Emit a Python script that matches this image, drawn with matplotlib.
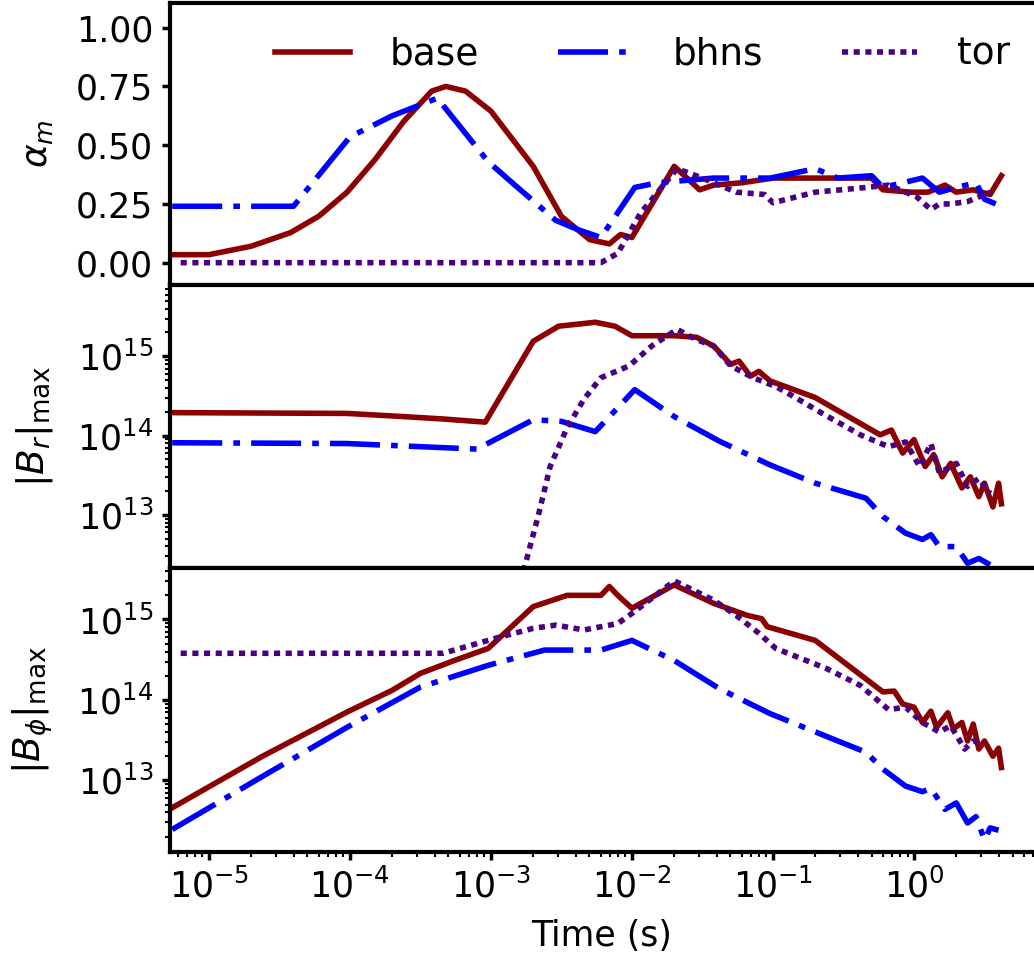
import numpy as np
import matplotlib
matplotlib.use("Agg")
import matplotlib.pyplot as plt

# values: log10(time / s) and panel values
# --- alpha_m panel ---
base_a_lt = [-5.26, -5.0, -4.70, -4.42, -4.22, -4.02, -3.82, -3.62, -3.42, -3.32, -3.18, -3.0,
             -2.70, -2.50, -2.30, -2.16, -2.08, -2.0, -1.70, -1.52, -1.42, -1.22, -1.0, -0.30,
             -0.22, -0.02, 0.10, 0.22, 0.30, 0.42, 0.54, 0.62]
base_a = [0.034, 0.034, 0.07, 0.128, 0.198, 0.30, 0.44, 0.60, 0.73, 0.75, 0.73, 0.645,
          0.41, 0.197, 0.098, 0.08, 0.12, 0.107, 0.41, 0.31, 0.33, 0.34, 0.36, 0.36,
          0.31, 0.30, 0.30, 0.33, 0.30, 0.31, 0.29, 0.37]
bhns_a_lt = [-5.26, -4.40, -4.0, -3.70, -3.38, -3.02, -2.82, -2.54, -2.38, -2.22, -1.98, -1.82,
             -1.42, -1.02, -0.70, -0.54, -0.30, -0.22, 0.06, 0.18, 0.30, 0.44, 0.50, 0.58]
bhns_a = [0.24, 0.24, 0.535, 0.625, 0.70, 0.43, 0.325, 0.18, 0.14, 0.107, 0.32, 0.34,
          0.36, 0.36, 0.40, 0.36, 0.37, 0.32, 0.36, 0.30, 0.32, 0.34, 0.27, 0.25]
tor_a_lt = [-5.2, -2.22, -2.10, -1.94, -1.68, -1.50, -1.26, -1.06, -1.0, -0.70, -0.34, -0.18,
            0.02, 0.12, 0.18, 0.26, 0.38, 0.46, 0.54]
tor_a = [0.0, 0.0, 0.04, 0.21, 0.40, 0.36, 0.30, 0.29, 0.255, 0.30, 0.32, 0.33,
         0.28, 0.226, 0.25, 0.25, 0.26, 0.28, 0.30]

# --- |B_r|_max panel (log10 G) ---
base_r_lt = [-5.26, -4.02, -3.62, -3.34, -3.04, -2.70, -2.52, -2.26, -2.12, -2.0, -1.70, -1.54,
             -1.42, -1.30, -1.24, -1.16, -1.10, -1.02, -0.70, -0.24, -0.16, -0.08, 0.0, 0.08,
             0.14, 0.20, 0.26, 0.34, 0.40, 0.46, 0.50, 0.56, 0.60, 0.62]
base_r = [14.29, 14.28, 14.24, 14.21, 14.17, 15.19, 15.38, 15.43, 15.38, 15.26, 15.26, 15.24,
          15.13, 14.90, 14.94, 14.75, 14.81, 14.69, 14.48, 14.01, 14.07, 13.78, 13.95, 13.61,
          13.76, 13.48, 13.65, 13.34, 13.48, 13.23, 13.40, 13.10, 13.40, 13.14]
bhns_r_lt = [-5.26, -4.02, -3.10, -2.70, -2.50, -2.26, -1.98, -1.70, -1.38, -1.02, -0.70, -0.34,
             -0.22, -0.06, 0.06, 0.12, 0.18, 0.30, 0.38, 0.46, 0.54]
bhns_r = [13.91, 13.90, 13.83, 14.20, 14.18, 14.05, 14.58, 14.24, 13.93, 13.63, 13.40, 13.21,
          12.98, 12.77, 12.69, 12.75, 12.60, 12.60, 12.39, 12.45, 12.37]
tor_r_lt = [-2.80, -2.76, -2.66, -2.58, -2.46, -2.34, -2.22, -2.02, -1.86, -1.68, -1.54, -1.42,
            -1.30, -1.14, -0.98, -0.86, -0.66, -0.38, -0.18, -0.06, 0.04, 0.12, 0.18, 0.30,
            0.38, 0.46, 0.54]
tor_r = [12.0, 12.35, 13.02, 13.61, 14.10, 14.46, 14.73, 14.88, 15.13, 15.34, 15.21, 15.13,
         14.88, 14.73, 14.62, 14.50, 14.29, 14.01, 13.86, 13.92, 13.61, 13.90, 13.53, 13.65,
         13.36, 13.46, 13.27]

# --- |B_phi|_max panel (log10 G) ---
base_p_lt = [-5.26, -4.62, -4.02, -3.70, -3.50, -3.26, -3.02, -2.70, -2.46, -2.22, -2.16, -2.10,
             -2.0, -1.70, -1.42, -1.18, -1.08, -1.04, -0.70, -0.22, -0.14, -0.08, 0.0, 0.06,
             0.12, 0.16, 0.24, 0.28, 0.34, 0.38, 0.42, 0.46, 0.50, 0.56, 0.60, 0.62]
base_p = [12.66, 13.30, 13.85, 14.12, 14.33, 14.49, 14.64, 15.16, 15.30, 15.30, 15.41, 15.30,
          15.14, 15.43, 15.20, 15.05, 15.01, 14.91, 14.74, 14.10, 14.11, 13.95, 13.91, 13.72,
          13.86, 13.66, 13.84, 13.64, 13.72, 13.49, 13.70, 13.39, 13.49, 13.30, 13.40, 13.16]
bhns_p_lt = [-5.26, -4.62, -4.02, -3.50, -3.02, -2.62, -2.22, -2.0, -1.70, -1.38, -1.02, -0.54,
             -0.34, -0.22, -0.06, 0.06, 0.12, 0.22, 0.30, 0.38, 0.44, 0.50, 0.54, 0.60]
bhns_p = [12.39, 13.05, 13.66, 14.16, 14.43, 14.62, 14.62, 14.74, 14.49, 14.14, 13.83, 13.49,
          13.35, 13.14, 12.93, 12.86, 12.90, 12.64, 12.72, 12.47, 12.55, 12.26, 12.41, 12.38]
tor_p_lt = [-5.2, -3.34, -3.18, -2.94, -2.70, -2.54, -2.34, -2.10, -1.98, -1.70, -1.42, -1.26,
            -1.10, -0.98, -0.62, -0.38, -0.18, -0.06, 0.06, 0.18, 0.26, 0.36, 0.42, 0.50]
tor_p = [14.58, 14.58, 14.66, 14.78, 14.89, 14.93, 14.87, 14.95, 15.10, 15.48, 15.24, 15.05,
         14.83, 14.64, 14.39, 14.18, 13.88, 13.91, 13.72, 13.60, 13.68, 13.39, 13.49, 13.45]

labels = ["base", "bhns", "tor"]
colors = ["#8b0000", "blue", "#4b0082"]
dashes = [None, (9, 2, 1.2, 2), (1.1, 1.0)]

plt.rcParams["font.family"] = ["DejaVu Sans"]
fig = plt.figure(figsize=(10.34, 9.57), dpi=100)

W, H = 1034.0, 957.0
left = 170 / W
panels = [(3, 285), (285, 568), (568, 852)]
axes = []
for top_px, bot_px in panels:
    ax = fig.add_axes([left, 1 - bot_px / H, 1.0 - left, (bot_px - top_px) / H])
    axes.append(ax)
ax1, ax2, ax3 = axes
ax2.sharex(ax1)
ax3.sharex(ax1)

series = [
    (ax1, [(base_a_lt, base_a), (bhns_a_lt, bhns_a), (tor_a_lt, tor_a)], False),
    (ax2, [(base_r_lt, base_r), (bhns_r_lt, bhns_r), (tor_r_lt, tor_r)], True),
    (ax3, [(base_p_lt, base_p), (bhns_p_lt, bhns_p), (tor_p_lt, tor_p)], True),
]

for ax, data, logy in series:
    for (lt, v), lab, c, d in zip(data, labels, colors, dashes):
        t = np.power(10.0, lt)
        y = np.power(10.0, v) if logy else np.asarray(v)
        line, = ax.plot(t, y, color=c, lw=4, label=lab)
        if d is not None:
            line.set_dashes(d)
    ax.set_xscale("log")
    if logy:
        ax.set_yscale("log")
    for s in ax.spines.values():
        s.set_linewidth(3)
    ax.spines["right"].set_visible(False)
    ax.tick_params(axis="both", which="major", labelsize=25, length=6, width=2.5, pad=6)
    ax.tick_params(axis="both", which="minor", length=3.5, width=1.5)

ax1.set_xlim(5.3e-6, 7.1)
ax1.set_ylim(-0.095, 1.105)
ax1.set_yticks([0.0, 0.25, 0.5, 0.75, 1.0])
ax2.set_ylim(10 ** 12.33, 10 ** 15.9)
ax3.set_ylim(10 ** 12.11, 10 ** 15.64)
ax2.set_yticks([1e13, 1e14, 1e15])
ax3.set_yticks([1e13, 1e14, 1e15])

for ax in (ax1, ax2):
    ax.tick_params(axis="x", which="both", bottom=False, labelbottom=False)

ax1.set_ylabel(r"$\alpha_m$", fontsize=26)
ax2.set_ylabel(r"$|B_r|_{\rm max}$", fontsize=27)
ax3.set_ylabel(r"$|B_\phi|_{\rm max}$", fontsize=27)
for ax in axes:
    ax.yaxis.set_label_coords(-0.133, 0.5)
ax3.set_xlabel("Time (s)", fontsize=25, labelpad=10)

ax1.legend(loc="upper left", ncol=3, frameon=False, fontsize=27,
           handlelength=2.0, handletextpad=1.07, columnspacing=2.1,
           bbox_to_anchor=(0.082, 1.0))

fig.savefig("out.png", dpi=100)
